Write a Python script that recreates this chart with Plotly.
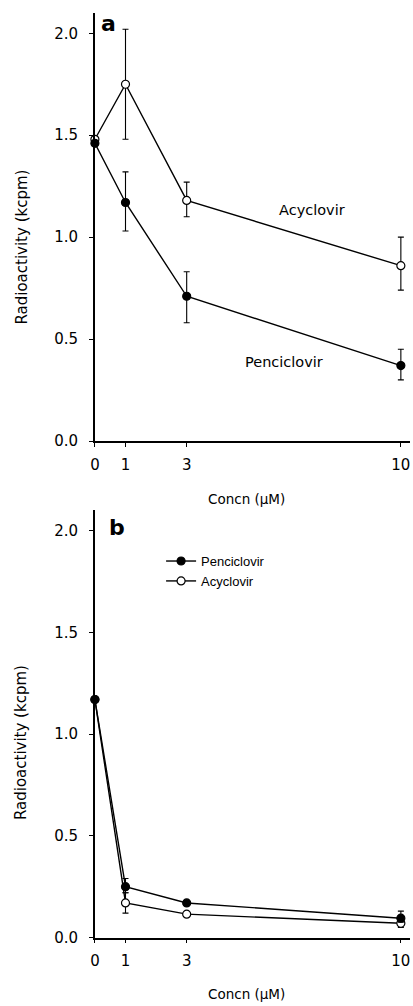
import plotly.graph_objects as go

# ---- data ----
conc = [0, 1, 3, 10]
conc_labels = ["0", "1", "3", "10"]
y_ticks = [0.0, 0.5, 1.0, 1.5, 2.0]

# panel a
pen_a = [1.46, 1.17, 0.71, 0.37]
pen_a_plus = [0, 0.15, 0.12, 0.08]
pen_a_minus = [0, 0.14, 0.13, 0.07]
acy_a = [1.48, 1.75, 1.18, 0.86]
acy_a_plus = [0, 0.27, 0.09, 0.14]
acy_a_minus = [0, 0.27, 0.08, 0.12]

# panel b
pen_b = [1.17, 0.25, 0.17, 0.095]
pen_b_plus = [0, 0.04, 0.01, 0.035]
pen_b_minus = [0, 0.03, 0.01, 0.02]
acy_b = [1.17, 0.17, 0.115, 0.07]
acy_b_plus = [0, 0.05, 0.01, 0.01]
acy_b_minus = [0, 0.05, 0.01, 0.02]

FONT = "DejaVu Sans, Liberation Sans, Arial, sans-serif"
LFONT = "Liberation Sans, Arial, Helvetica, sans-serif"
W, H = 413, 1006
X_DOM = [91 / W, 410 / W]
TOP_DOM = [1 - 445 / H, 1 - 13 / H]
BOT_DOM = [1 - 946 / H, 1 - 515 / H]
XR = [0, 10.3]
YR = [0, 2.1]

fig = go.Figure()


def add_series(y, plus, minus, xa, ya, name, filled, show):
    fig.add_trace(go.Scatter(
        x=conc, y=y, xaxis=xa, yaxis=ya, name=name, mode="lines+markers",
        line=dict(color="black", width=1.4),
        marker=dict(symbol="circle", size=8,
                    color="black" if filled else "white",
                    line=dict(color="black", width=1.2)),
        error_y=dict(type="data", symmetric=False, array=plus, arrayminus=minus,
                     color="black", thickness=1.1, width=3),
        cliponaxis=False, showlegend=show,
        legendrank=1 if filled else 2,
    ))


add_series(acy_a, acy_a_plus, acy_a_minus, "x", "y", "Acyclovir", False, False)
add_series(pen_a, pen_a_plus, pen_a_minus, "x", "y", "Penciclovir", True, False)
add_series(acy_b, acy_b_plus, acy_b_minus, "x2", "y2", "Acyclovir", False, True)
add_series(pen_b, pen_b_plus, pen_b_minus, "x2", "y2", "Penciclovir", True, True)

xbase = dict(range=XR, domain=X_DOM, tickmode="array", tickvals=conc, ticktext=conc_labels,
             showgrid=False, zeroline=False, showline=True, linecolor="black", linewidth=1.5,
             ticks="outside", ticklen=4, tickwidth=1.2, tickcolor="black",
             tickfont=dict(family=FONT, size=15, color="black"), ticklabelstandoff=5)
ybase = dict(range=YR, tickmode="array", tickvals=y_ticks, tickformat=".1f",
             showgrid=False, zeroline=False, showline=True, linecolor="black", linewidth=1.5,
             ticks="outside", ticklen=4, tickwidth=1.2, tickcolor="black",
             tickfont=dict(family=FONT, size=15, color="black"), ticklabelstandoff=8)
xin = dict(range=XR, tickmode="array", tickvals=conc, showgrid=False, zeroline=False,
           showline=False, ticks="inside", ticklen=4, tickwidth=1.2, tickcolor="black",
           showticklabels=False)
yin = dict(range=YR, tickmode="array", tickvals=y_ticks, showgrid=False, zeroline=False,
           showline=False, ticks="inside", ticklen=4, tickwidth=1.2, tickcolor="black",
           showticklabels=False)

fig.update_layout(
    width=W, height=H, margin=dict(l=0, r=0, t=0, b=0),
    paper_bgcolor="white", plot_bgcolor="white",
    font=dict(family=FONT, color="black"),
    xaxis=dict(xbase, anchor="y"),
    yaxis=dict(ybase, domain=TOP_DOM, anchor="x"),
    xaxis2=dict(xbase, anchor="y2"),
    yaxis2=dict(ybase, domain=BOT_DOM, anchor="x2"),
    xaxis3=dict(xin, overlaying="x", anchor="y", side="bottom"),
    yaxis3=dict(yin, overlaying="y", anchor="x", side="left"),
    xaxis4=dict(xin, overlaying="x2", anchor="y2", side="bottom"),
    yaxis4=dict(yin, overlaying="y2", anchor="x2", side="left"),
    legend=dict(x=158 / W, y=1 - 551 / H, xanchor="left", yanchor="top",
                font=dict(family=LFONT, size=13, color="black"),
                bgcolor="rgba(0,0,0,0)", itemwidth=30, tracegroupgap=0),
)

ann = [
    dict(text="<b>a</b>", x=105 / W, y=1 - 24 / H, font_size=22),
    dict(text="<b>b</b>", x=113 / W, y=1 - 532 / H, font_size=22),
    dict(text="Acyclovir", x=311 / W, y=1 - 212 / H, font_size=14.5),
    dict(text="Penciclovir", x=282 / W, y=1 - 365 / H, font_size=14.5),
    dict(text="Concn (µM)", x=244 / W, y=1 - 503 / H, font_size=13.5),
    dict(text="Concn (µM)", x=244 / W, y=1 - 1003 / H, font_size=13.5),
    dict(text="Radioactivity (kcpm)", x=17 / W, y=1 - 249 / H, font_size=15, textangle=-90),
    dict(text="Radioactivity (kcpm)", x=17 / W, y=1 - 749 / H, font_size=15, textangle=-90),
]
for a in ann:
    fs = a.pop("font_size")
    fig.add_annotation(xref="paper", yref="paper", showarrow=False,
                       xanchor="center", yanchor="middle",
                       font=dict(family=FONT, size=fs, color="black"), **a)

fig.write_html("out.html", config={"displayModeBar": False},
               post_script="document.body.style.margin='0';")
